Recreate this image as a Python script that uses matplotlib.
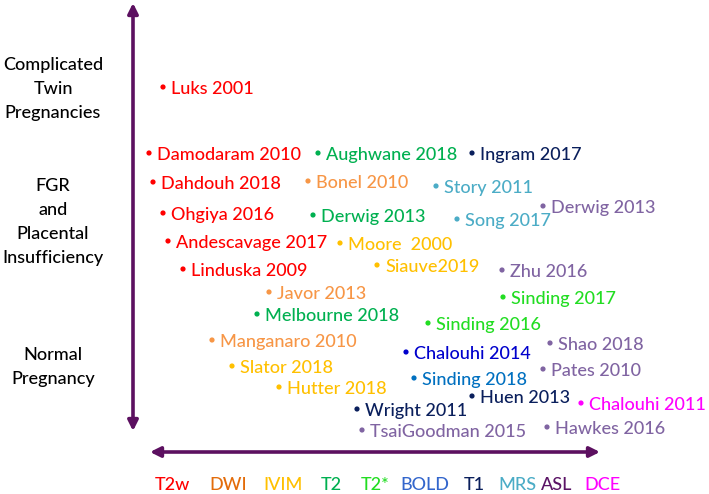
import matplotlib
matplotlib.use("Agg")
import matplotlib.pyplot as plt

# ---------------------------------------------------------------
# data (pixel positions of the bullets)
# ---------------------------------------------------------------
study_names = [
    "Luks 2001", "Damodaram 2010", "Dahdouh 2018", "Ohgiya 2016",
    "Andescavage 2017", "Linduska 2009",
    "Aughwane 2018", "Bonel 2010", "Derwig 2013", "Moore  2000",
    "Siauve2019", "Javor 2013", "Melbourne 2018", "Manganaro 2010",
    "Slator 2018", "Hutter 2018",
    "Ingram 2017", "Story 2011", "Song 2017", "Derwig 2013",
    "Zhu 2016", "Sinding 2017", "Sinding 2016", "Chalouhi 2014",
    "Shao 2018", "Sinding 2018", "Pates 2010", "Huen 2013",
    "Chalouhi 2011", "Wright 2011", "TsaiGoodman 2015", "Hawkes 2016",
]
study_x = [163, 149, 153, 163, 168, 183,
           318, 308, 313, 340, 377, 269, 257, 212, 232, 279,
           472, 436, 457, 543, 502, 503, 428, 406,
           550, 414, 543, 472, 581, 357, 362, 547]
study_y = [87, 153, 182, 213, 241, 269,
           153, 181, 215, 243, 265, 292, 314, 340, 366, 387,
           153, 186, 219, 206, 270, 297, 323, 352,
           343, 378, 369, 396, 403, 409, 430, 427]

group_labels = ["Complicated\nTwin\nPregnancies",
                "FGR\nand\nPlacental\nInsufficiency",
                "Normal\nPregnancy"]
group_y = [89, 222, 367]

modalities = ["T2w", "DWI", "IVIM", "T2", "T2*", "BOLD", "T1", "MRS", "ASL", "DCE"]
modality_x = [172, 228, 283, 331, 375, 425, 474, 517, 557, 602]

# colours
study_colors = ["#FF0000"] * 6 + [
    "#00B050", "#F79646", "#00B050", "#FFC000", "#FFC000", "#F79646",
    "#00B050", "#F79646", "#FFC000", "#FFC000",
    "#0A1F5C", "#4BACC6", "#4BACC6", "#8064A2", "#8064A2", "#22DD22",
    "#22DD22", "#0000CC", "#8064A2", "#0070C0", "#8064A2", "#0A1F5C",
    "#FF00FF", "#0A1F5C", "#8064A2", "#8064A2",
]
modality_colors = ["#FF0000", "#E36C0A", "#FFC000", "#00B050", "#22DD22",
                   "#3366CC", "#0A1F5C", "#4BACC6", "#5B1466", "#FF00FF"]
ARROW = "#5C1060"
FONT = "Lato"
FS = 13.0
WEIGHT = "medium"

# ---------------------------------------------------------------
fig = plt.figure(figsize=(7.09, 4.94), dpi=100)
ax = fig.add_axes([0, 0, 1, 1])
ax.set_xlim(0, 709)
ax.set_ylim(494, 0)
ax.axis("off")

# arrows
arrow_style = dict(arrowstyle="<|-|>", color=ARROW, lw=2.6,
                   mutation_scale=15, shrinkA=0, shrinkB=0)
ax.annotate("", xy=(133, 3), xytext=(133, 431), arrowprops=arrow_style)
ax.annotate("", xy=(150, 452), xytext=(600, 452), arrowprops=arrow_style)

# bullets + study names
ax.scatter(study_x, study_y, s=14, c=study_colors, zorder=3, linewidths=0)
for name, x, y, c in zip(study_names, study_x, study_y, study_colors):
    ax.text(x + 8, y, name, color=c, fontsize=FS, family=FONT,
            weight=WEIGHT, ha="left", va="center_baseline")

# group labels on the left
for lab, y in zip(group_labels, group_y):
    ax.text(53, y, lab, color="black", fontsize=FS, family=FONT,
            weight=WEIGHT, ha="center", va="center", linespacing=1.6)

# modality legend along the bottom
for m, x, c in zip(modalities, modality_x, modality_colors):
    ax.text(x, 485, m, color=c, fontsize=FS, family=FONT,
            weight=WEIGHT, ha="center", va="center")

fig.savefig("out.png", dpi=100)
